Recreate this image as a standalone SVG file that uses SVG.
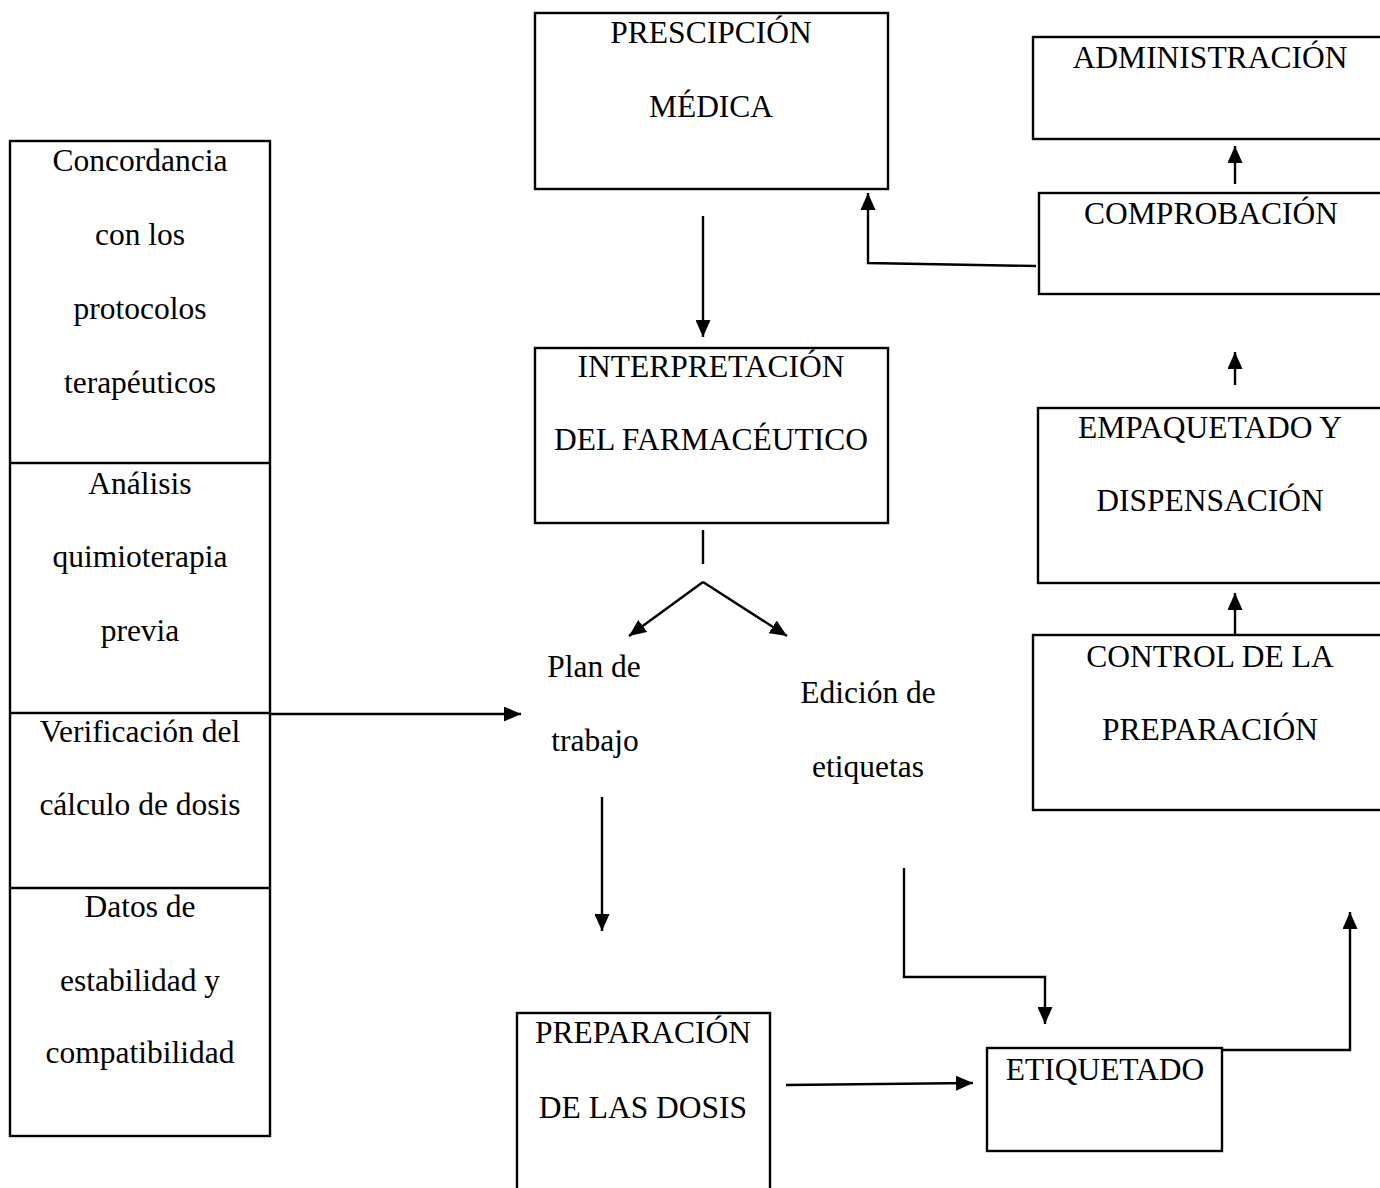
<svg xmlns="http://www.w3.org/2000/svg" width="1380" height="1188" viewBox="0 0 1380 1188">
<style>
.box{fill:#fff;stroke:#000;stroke-width:2.4}
.t{font-family:"Liberation Serif","Times New Roman",serif;font-size:31.5px;fill:#000;text-anchor:middle}
.c{fill:none;stroke:#000;stroke-width:2.4}
</style>
<defs>
<marker id="ah" viewBox="0 0 17 15" refX="17" refY="7.5" markerWidth="17" markerHeight="15" markerUnits="userSpaceOnUse" orient="auto">
<path d="M0,0 L17,7.5 L0,15 z" fill="#000"/>
</marker>
</defs>
<rect width="1380" height="1188" fill="#fff"/>
<g id="n-criterios">
<rect class="box" x="10" y="141" width="260" height="995"/>
<line class="c" x1="10" y1="463" x2="270" y2="463"/>
<line class="c" x1="10" y1="713" x2="270" y2="713"/>
<line class="c" x1="10" y1="888" x2="270" y2="888"/>
<text class="t" x="140" y="171">Concordancia</text>
<text class="t" x="140" y="245">con los</text>
<text class="t" x="140" y="319">protocolos</text>
<text class="t" x="140" y="393">terapéuticos</text>
<text class="t" x="140" y="494">Análisis</text>
<text class="t" x="140" y="567">quimioterapia</text>
<text class="t" x="140" y="641">previa</text>
<text class="t" x="140" y="742">Verificación del</text>
<text class="t" x="140" y="815">cálculo de dosis</text>
<text class="t" x="140" y="917">Datos de</text>
<text class="t" x="140" y="991">estabilidad y</text>
<text class="t" x="140" y="1063">compatibilidad</text>
</g>
<g id="n-prescripcion">
<rect class="box" x="535" y="13" width="353" height="176"/>
<text class="t" x="711" y="43">PRESCIPCIÓN</text>
<text class="t" x="711" y="117">MÉDICA</text>
</g>
<g id="n-interpretacion">
<rect class="box" x="535" y="348" width="353" height="175"/>
<text class="t" x="711" y="377">INTERPRETACIÓN</text>
<text class="t" x="711" y="450">DEL FARMACÉUTICO</text>
</g>
<g id="n-plan">
<text class="t" x="594" y="677">Plan de</text>
<text class="t" x="595" y="751">trabajo</text>
</g>
<g id="n-edicion">
<text class="t" x="868" y="703">Edición de</text>
<text class="t" x="868" y="777">etiquetas</text>
</g>
<g id="n-preparacion">
<rect class="box" x="517" y="1013" width="253" height="190"/>
<text class="t" x="643" y="1043">PREPARACIÓN</text>
<text class="t" x="643" y="1118">DE LAS DOSIS</text>
</g>
<g id="n-etiquetado">
<rect class="box" x="987" y="1048" width="235" height="103"/>
<text class="t" x="1105" y="1080">ETIQUETADO</text>
</g>
<g id="n-administracion">
<rect class="box" x="1033" y="37" width="360" height="102"/>
<text class="t" x="1210" y="68">ADMINISTRACIÓN</text>
</g>
<g id="n-comprobacion">
<rect class="box" x="1039" y="193" width="360" height="101"/>
<text class="t" x="1211" y="224">COMPROBACIÓN</text>
</g>
<g id="n-empaquetado">
<rect class="box" x="1038" y="408" width="360" height="175"/>
<text class="t" x="1210" y="438">EMPAQUETADO Y</text>
<text class="t" x="1210" y="511">DISPENSACIÓN</text>
</g>
<g id="n-control">
<rect class="box" x="1033" y="635" width="360" height="175"/>
<text class="t" x="1210" y="667">CONTROL DE LA</text>
<text class="t" x="1210" y="740">PREPARACIÓN</text>
</g>
<g id="connectors">
<line class="c" x1="703" y1="216" x2="703" y2="337" marker-end="url(#ah)"/>
<line class="c" x1="703" y1="530" x2="703" y2="564"/>
<line class="c" x1="703" y1="582" x2="629" y2="636" marker-end="url(#ah)"/>
<line class="c" x1="703" y1="582" x2="787" y2="636" marker-end="url(#ah)"/>
<line class="c" x1="270" y1="714" x2="521" y2="714" marker-end="url(#ah)"/>
<line class="c" x1="602" y1="797" x2="602" y2="931" marker-end="url(#ah)"/>
<polyline class="c" points="904,868 904,977 1045,977 1045,1024" marker-end="url(#ah)"/>
<line class="c" x1="786" y1="1085" x2="973" y2="1083" marker-end="url(#ah)"/>
<polyline class="c" points="1222,1050 1350,1050 1350,912" marker-end="url(#ah)"/>
<line class="c" x1="1235" y1="635" x2="1235" y2="593" marker-end="url(#ah)"/>
<line class="c" x1="1235" y1="385" x2="1235" y2="352" marker-end="url(#ah)"/>
<line class="c" x1="1235" y1="184" x2="1235" y2="146" marker-end="url(#ah)"/>
<polyline class="c" points="1036,266 868,263 868,193" marker-end="url(#ah)"/>
</g>
</svg>
